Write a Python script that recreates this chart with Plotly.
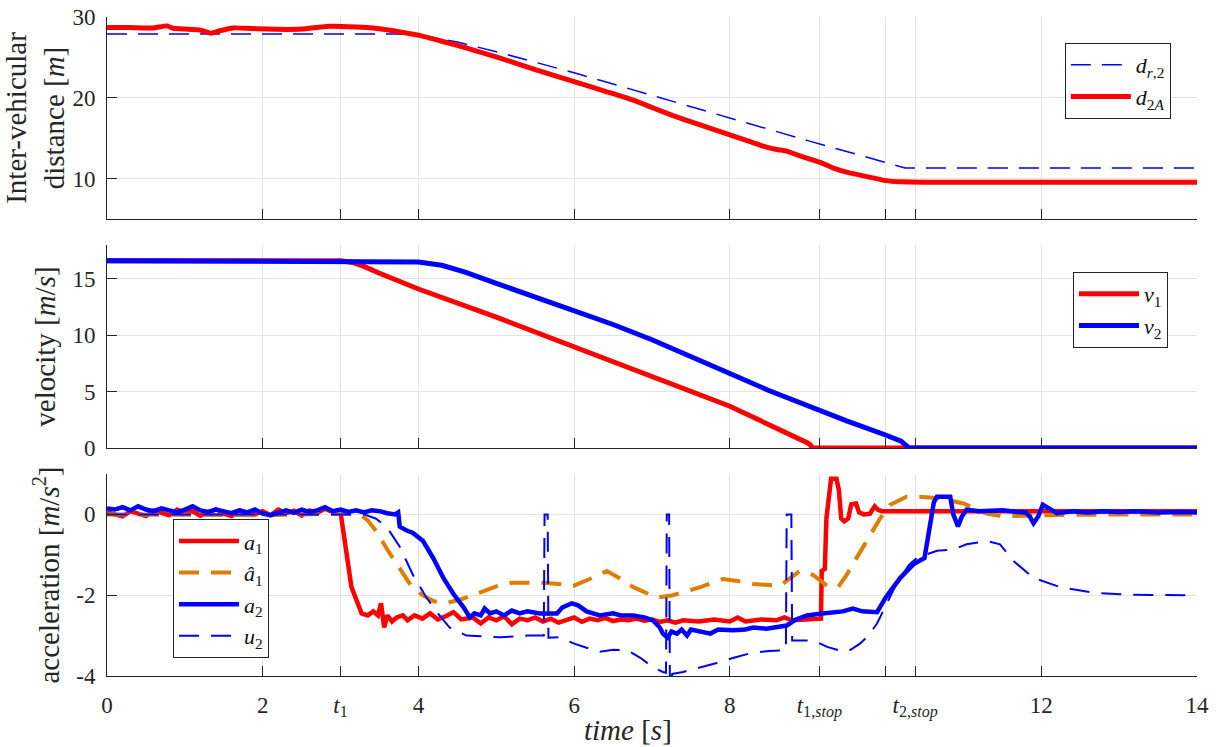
import plotly.graph_objects as go

# ---------------- data ----------------
# inter-vehicular distance
t_dr2 = [0, 3.7, 4.0, 4.5, 5.0, 6.0, 7.0, 8.0, 9.0, 10.0, 10.25, 14]
d_r2 = [27.9, 27.9, 27.8, 26.9, 25.7, 23.1, 20.3, 17.5, 14.7, 12.0, 11.3, 11.3]

t_d2A = [0, 0.3, 0.6, 0.77, 0.85, 1.0, 1.19, 1.34, 1.45, 1.62, 1.8, 2.05, 2.3, 2.5,
         2.7, 2.86, 3.1, 3.33, 3.5, 3.68, 3.85, 4.0, 4.3, 4.6, 5.05, 5.5, 6.0, 6.4,
         6.76, 7.0, 7.27, 7.6, 8.0, 8.25, 8.47, 8.6, 8.73, 8.9, 9.16, 9.33, 9.5,
         9.76, 10.0, 10.2, 10.5, 11.0, 12.0, 13.0, 14.0]
d_2A = [28.7, 28.7, 28.65, 28.9, 28.6, 28.5, 28.4, 28.0, 28.3, 28.65, 28.6, 28.5, 28.45,
        28.5, 28.7, 28.85, 28.8, 28.7, 28.55, 28.3, 28.0, 27.75, 27.0, 26.2, 24.9, 23.5,
        22.0, 20.8, 19.7, 18.8, 17.8, 16.7, 15.4, 14.6, 13.9, 13.6, 13.4, 12.8, 12.0,
        11.3, 10.8, 10.25, 9.75, 9.6, 9.55, 9.55, 9.55, 9.55, 9.55]

# velocities
t_v1 = [0, 3.0, 3.15, 3.3, 3.5, 4.0, 5.0, 6.0, 7.0, 8.0, 9.0, 9.03, 9.06, 14]
v1 = [16.6, 16.6, 16.45, 16.1, 15.5, 14.1, 11.6, 9.0, 6.4, 3.7, 0.45, 0.3, 0, 0]

t_v2 = [0, 3.7, 4.0, 4.3, 4.6, 5.0, 5.5, 6.0, 6.5, 7.0, 7.5, 8.0, 8.5, 9.0, 9.5,
        10.0, 10.2, 10.25, 10.3, 14]
v2 = [16.6, 16.6, 16.5, 16.2, 15.6, 14.6, 13.4, 12.2, 10.95, 9.6, 8.15, 6.6, 5.1, 3.7,
      2.4, 1.15, 0.6, 0.3, 0, 0]

# accelerations
t_a1 = [0.0, 0.1, 0.2, 0.3, 0.4, 0.5, 0.6, 0.7, 0.8, 0.9, 1.0, 1.1, 1.2, 1.3, 1.4, 1.5,
        1.6, 1.7, 1.8, 1.9, 2.0, 2.1, 2.2, 2.3, 2.4, 2.5, 2.6, 2.7, 2.8, 2.9, 3.0,
        3.02, 3.06, 3.1, 3.14, 3.2, 3.27, 3.35, 3.42, 3.48, 3.52, 3.56, 3.6, 3.66,
        3.72, 3.8, 3.86, 3.95, 4.05, 4.15, 4.25, 4.35, 4.45, 4.55, 4.7, 4.8, 4.9,
        5.0, 5.1, 5.2, 5.3, 5.4, 5.5, 5.6, 5.7, 5.8, 5.9, 6.0, 6.1, 6.2, 6.3, 6.4,
        6.5, 6.6, 6.7, 6.8, 6.9, 7.0, 7.1, 7.2, 7.3, 7.4, 7.6, 7.8, 8.0, 8.1, 8.2,
        8.4, 8.6, 8.7, 8.8, 9.0, 9.17, 9.18, 9.22, 9.24, 9.27, 9.3, 9.37, 9.4, 9.43,
        9.47, 9.52, 9.56, 9.62, 9.66, 9.72, 9.8, 9.86, 9.9, 9.95, 14.0]
a1 = [0.05, 0.0, -0.05, 0.08, 0.02, -0.04, 0.1, 0.03, -0.02, 0.12, 0.04, 0.08, -0.03,
      0.05, 0.13, 0.02, -0.04, 0.1, 0.05, 0.0, 0.08, -0.02, 0.12, 0.03, 0.09, -0.03,
      0.1, 0.04, 0.14, 0.06, 0.05,
      -0.2, -0.8, -1.3, -1.8, -2.1, -2.45, -2.5, -2.4, -2.5, -2.2, -2.8, -2.5, -2.65,
      -2.55, -2.5, -2.62, -2.5, -2.58, -2.45, -2.6, -2.52, -2.42, -2.6, -2.55, -2.7,
      -2.55, -2.62, -2.52, -2.72, -2.58, -2.62, -2.55, -2.65, -2.58, -2.68, -2.6,
      -2.55, -2.66, -2.58, -2.62, -2.56, -2.64, -2.6, -2.62, -2.58, -2.63, -2.6,
      -2.66, -2.62, -2.68, -2.62, -2.65, -2.6, -2.65, -2.55, -2.65, -2.6, -2.62,
      -2.55, -2.62, -2.6, -2.58, -1.4, -1.35, -0.1, 0.5, 0.88, 0.88, 0.6, -0.1,
      -0.17, -0.1, 0.25, 0.27, 0.05, 0.0, 0.02, 0.2, 0.12, 0.08, 0.08]

t_a1_hat = [0, 1.0, 2.0, 3.0, 3.25, 3.35, 3.46, 3.61, 3.74, 3.9, 4.05, 4.2, 4.35, 4.55,
            4.75, 5.0, 5.2, 5.56, 5.8, 5.99, 6.2, 6.42, 6.6, 6.76, 7.06, 7.27, 7.62,
            7.91, 8.1, 8.3, 8.64, 8.8, 8.9, 9.07, 9.25, 9.39, 9.5, 9.58, 9.76, 9.93,
            10.06, 10.27, 10.4, 10.7, 11.0, 11.3, 11.5, 12.0, 13.0, 14.0]
a1_hat = [0.0, 0.0, -0.02, 0.02, 0.0, -0.15, -0.42, -0.9, -1.3, -1.75, -2.0, -2.15, -2.2,
          -2.1, -1.96, -1.78, -1.69, -1.69, -1.72, -1.77, -1.6, -1.4, -1.6, -1.8, -2.06,
          -2.0, -1.8, -1.6, -1.65, -1.72, -1.77, -1.55, -1.4, -1.5, -1.77, -1.8, -1.5,
          -1.23, -0.66, -0.1, 0.24, 0.44, 0.44, 0.4, 0.27, 0.02, -0.05, -0.02, 0.0, 0.0]

t_a2 = [0.0, 0.1, 0.2, 0.3, 0.4, 0.5, 0.6, 0.7, 0.8, 0.9, 1.0, 1.1, 1.2, 1.3, 1.4, 1.5,
        1.6, 1.7, 1.8, 1.9, 2.0, 2.1, 2.2, 2.3, 2.4, 2.5, 2.6, 2.7, 2.8, 2.9, 3.0, 3.1,
        3.2, 3.3, 3.4, 3.5, 3.6, 3.7, 3.74, 3.76, 3.85, 3.93, 4.06, 4.19, 4.32, 4.45,
        4.58, 4.66, 4.72, 4.8, 4.85, 4.92, 5.0, 5.1, 5.2, 5.3, 5.4, 5.56, 5.78, 5.85,
        5.97, 6.05, 6.16, 6.25, 6.33, 6.5, 6.6, 6.76, 6.9, 7.01, 7.1, 7.14, 7.2, 7.25,
        7.32, 7.38, 7.45, 7.5, 7.62, 7.75, 7.85, 8.04, 8.2, 8.3, 8.47, 8.6, 8.73, 8.85,
        8.99, 9.16, 9.3, 9.45, 9.58, 9.7, 9.89, 10.0, 10.1, 10.19, 10.3, 10.36, 10.5,
        10.53, 10.58, 10.62, 10.66, 10.83, 10.87, 10.93, 10.98, 11.04, 11.2, 11.5, 11.7,
        11.8, 11.85, 11.9, 11.96, 12.02, 12.1, 12.2, 12.4, 12.6, 12.8, 13.0, 13.2, 13.5,
        13.8, 14.0]
a2 = [0.15, 0.12, 0.18, 0.1, 0.2, 0.12, 0.08, 0.15, 0.1, 0.05, 0.12, 0.2, 0.1, 0.06,
      0.12, 0.08, 0.03, 0.1, 0.05, 0.12, 0.02, -0.02, 0.05, 0.1, 0.04, 0.12, 0.06, 0.1,
      0.18, 0.08, 0.12, 0.06, 0.1, 0.05, 0.1, 0.08, 0.03, 0.0, 0.05, -0.3, -0.4, -0.46,
      -0.66, -1.08, -1.57, -1.97, -2.3, -2.55, -2.45, -2.5, -2.33, -2.45, -2.4, -2.5,
      -2.38, -2.45, -2.4, -2.45, -2.45, -2.3, -2.2, -2.25, -2.4, -2.45, -2.5, -2.45,
      -2.5, -2.5, -2.55, -2.62, -2.8, -2.95, -3.05, -2.9, -2.95, -2.85, -3.0, -2.85,
      -2.9, -2.95, -2.85, -2.87, -2.85, -2.8, -2.83, -2.78, -2.75, -2.6, -2.5, -2.46,
      -2.42, -2.4, -2.33, -2.4, -2.42, -2.06, -1.8, -1.57, -1.35, -1.23, -1.08, -0.74,
      -0.1, 0.3, 0.44, 0.44, 0.0, -0.3, -0.05, 0.12, 0.08, 0.1, 0.06, 0.05, -0.05,
      -0.22, -0.05, 0.24, 0.15, 0.03, 0.08, 0.05, 0.08, 0.06, 0.08, 0.05, 0.06, 0.05]

t_u2 = [0, 3.3, 3.45, 3.59, 3.76, 3.93, 4.1, 4.25, 4.4, 4.62, 5.05, 5.4, 5.61, 5.62,
        5.66, 5.67, 5.82, 6.0, 6.16, 6.33, 6.5, 6.68, 6.85, 7.01, 7.14, 7.18, 7.19,
        7.22, 7.23, 7.26, 7.4, 7.6, 7.83, 8.05, 8.26, 8.5, 8.68, 8.72, 8.73, 8.79, 8.8,
        9.07, 9.25, 9.46, 9.55, 9.67, 9.78, 9.89, 10.14, 10.3, 10.4, 10.66, 10.87, 11.04,
        11.3, 11.47, 11.64, 11.9, 12.24, 12.67, 13.18, 14.0]
u2 = [0.0, 0.0, -0.1, -0.3, -0.8, -1.5, -2.05, -2.45, -2.8, -3.0, -3.04, -3.0, -3.0,
      0.0, 0.0, -3.05, -3.04, -3.2, -3.3, -3.4, -3.35, -3.36, -3.55, -3.78, -3.9, -3.92,
      0.0, 0.0, -4.3, -3.95, -3.9, -3.8, -3.68, -3.55, -3.44, -3.38, -3.36, -3.36, 0.0,
      0.0, -3.12, -3.12, -3.28, -3.4, -3.35, -3.2, -3.0, -2.7, -1.72, -1.25, -1.08,
      -0.9, -0.87, -0.74, -0.66, -0.74, -1.15, -1.57, -1.8, -1.94, -1.99, -2.0]

# time axis ticks (t1, t1_stop, t2_stop marked symbolically)
time_tickvals = [0, 2, 3.0, 4, 6, 8, 9.15, 10, 10.38, 12, 14]
time_ticktext = ["0", "2", "<i>t</i><sub>1</sub>", "4", "6", "8",
                 "<i>t</i><sub>1,<i>stop</i></sub>", "",
                 "<i>t</i><sub>2,<i>stop</i></sub>", "12", "14"]

dist_ticks = [10, 20, 30]
vel_ticks = [0, 5, 10, 15]
acc_ticks = [-4, -2, 0]
acc_ticktext = ["-4", "-2", "0"]

# ---------------- styling ----------------
RED = "rgb(255,0,0)"
BLUE = "rgb(0,0,255)"
ORANGE = "rgb(222,125,0)"
FONT = "Liberation Serif, DejaVu Serif, serif"
AXC = "#262626"
GRIDC = "#e3e3e3"

fig = go.Figure()

# top: distances
fig.add_trace(go.Scatter(x=t_dr2, y=d_r2, mode="lines", xaxis="x", yaxis="y",
                         name="<i>d</i><sub><i>r</i>,2</sub>", legend="legend",
                         line=dict(color=BLUE, width=1.5, dash="20px,11px")))
fig.add_trace(go.Scatter(x=t_d2A, y=d_2A, mode="lines", xaxis="x", yaxis="y",
                         name="<i>d</i><sub>2<i>A</i></sub>", legend="legend",
                         line=dict(color=RED, width=5, shape="spline", smoothing=0.4)))

# middle: velocities
fig.add_trace(go.Scatter(x=t_v1, y=v1, mode="lines", xaxis="x2", yaxis="y2",
                         name="<i>v</i><sub>1</sub>", legend="legend2",
                         line=dict(color=RED, width=5)))
fig.add_trace(go.Scatter(x=t_v2, y=v2, mode="lines", xaxis="x2", yaxis="y2",
                         name="<i>v</i><sub>2</sub>", legend="legend2",
                         line=dict(color=BLUE, width=5)))

# bottom: accelerations
fig.add_trace(go.Scatter(x=t_a1, y=a1, mode="lines", xaxis="x3", yaxis="y3",
                         name="<i>a</i><sub>1</sub>", legend="legend3",
                         line=dict(color=RED, width=4.5)))
fig.add_trace(go.Scatter(x=t_a1_hat, y=a1_hat, mode="lines", xaxis="x3", yaxis="y3",
                         name="<i>â</i><sub>1</sub>", legend="legend3",
                         line=dict(color=ORANGE, width=4, dash="20px,12px")))
fig.add_trace(go.Scatter(x=t_a2, y=a2, mode="lines", xaxis="x3", yaxis="y3",
                         name="<i>a</i><sub>2</sub>", legend="legend3",
                         line=dict(color=BLUE, width=4.5)))
fig.add_trace(go.Scatter(x=t_u2, y=u2, mode="lines", xaxis="x3", yaxis="y3",
                         name="<i>u</i><sub>2</sub>", legend="legend3",
                         line=dict(color=BLUE, width=2, dash="20px,12px")))

tickfont = dict(family=FONT, size=23, color=AXC)
titlefont = dict(family=FONT, size=29, color=AXC)

common_x = dict(range=[0, 14], tickmode="array", tickvals=time_tickvals,
                ticktext=time_ticktext, showgrid=True, gridcolor=GRIDC, gridwidth=1,
                zeroline=False, showline=True, linecolor=AXC, linewidth=1,
                ticks="inside", ticklen=10, tickwidth=1, tickcolor=AXC,
                tickfont=tickfont, mirror=False, automargin=False)
common_y = dict(showgrid=True, gridcolor=GRIDC, gridwidth=1, zeroline=False,
                showline=True, linecolor=AXC, linewidth=1, ticks="inside",
                ticklen=10, tickwidth=1, tickcolor=AXC, tickfont=tickfont,
                ticklabelstandoff=6, automargin=False)

legend_style = dict(bgcolor="white", bordercolor=AXC, borderwidth=1,
                    font=dict(family=FONT, size=22, color="#111111"),
                    xanchor="right", yanchor="top", itemwidth=60,
                    tracegroupgap=0)

fig.update_layout(
    width=1226, height=747,
    margin=dict(l=107, r=29, t=17, b=71),
    paper_bgcolor="white", plot_bgcolor="white",
    xaxis=dict(**common_x, domain=[0, 1], anchor="y", showticklabels=False),
    xaxis2=dict(**common_x, domain=[0, 1], anchor="y2", showticklabels=False),
    xaxis3=dict(**common_x, domain=[0, 1], anchor="y3", ticklabelstandoff=8),
    yaxis=dict(**common_y, domain=[0.6935, 1.0], anchor="x", range=[5, 30],
               tickmode="array", tickvals=dist_ticks,
               title=dict(text="Inter-vehicular<br>distance [<i>m</i>]", font=titlefont,
                          standoff=4)),
    yaxis2=dict(**common_y, domain=[0.346, 0.654], anchor="x2", range=[0, 18],
                tickmode="array", tickvals=vel_ticks,
                title=dict(text="velocity [<i>m</i>/<i>s</i>]", font=titlefont,
                           standoff=8)),
    yaxis3=dict(**common_y, domain=[0.0, 0.3065], anchor="x3", range=[-4, 1],
                tickmode="array", tickvals=acc_ticks, ticktext=acc_ticktext,
                title=dict(text="acceleration [<i>m</i>/<i>s</i><sup>2</sup>]",
                           font=titlefont, standoff=8)),
    legend=dict(**legend_style, x=0.976, y=0.9605),
    legend2=dict(**legend_style, x=0.9734, y=0.613),
    legend3=dict(**legend_style, x=0.1486, y=0.238),
    showlegend=True,
    annotations=[dict(text="<i>time</i> [<i>s</i>]", xref="paper", yref="paper",
                      x=0.478, y=-0.082, xanchor="center", yanchor="middle",
                      showarrow=False, font=titlefont)],
)

fig.write_html("out.html")
